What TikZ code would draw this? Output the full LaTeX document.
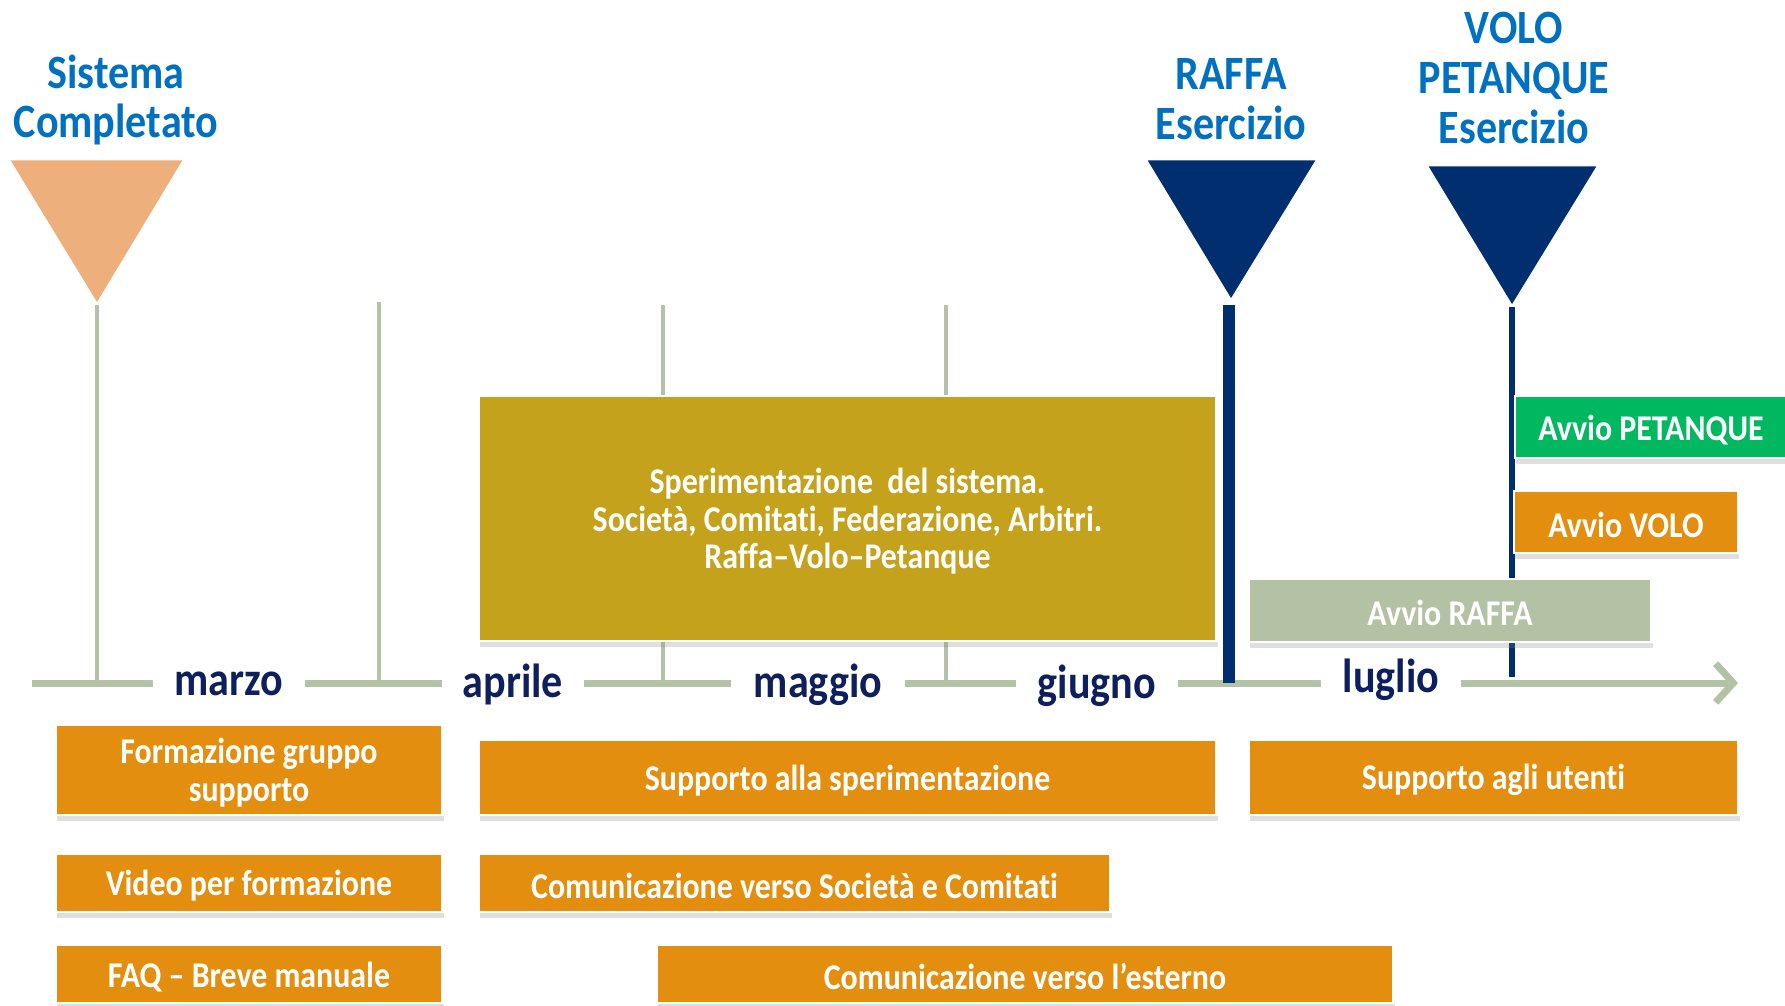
\documentclass[tikz,border=0pt]{standalone}
\usepackage{fontspec}
\setmainfont{Carlito}[FakeStretch=0.88, Ligatures=CommonOff]
\usetikzlibrary{arrows.meta,shadows}
\definecolor{titleblue}{HTML}{0070C0}
\definecolor{monthnavy}{HTML}{0D1F5C}
\definecolor{flagnavy}{HTML}{002E6E}
\definecolor{flagpeach}{HTML}{EDB07D}
\definecolor{sage}{HTML}{B3C2A4}
\definecolor{boxorange}{HTML}{E38E0E}
\definecolor{boxolive}{HTML}{C4A21C}
\definecolor{boxgreen}{HTML}{00B860}
\begin{document}
\begin{tikzpicture}[x=0.01cm,y=-0.01cm,
    title/.style={font=\bfseries\fontsize{13.6}{14.2}\selectfont, text=titleblue, align=center},
    month/.style={fill=white, text=monthnavy, font=\bfseries\fontsize{13.6}{14}\selectfont,
        text height=9.5pt, text depth=3pt, minimum height=0.7cm, inner sep=0pt},
    task/.style={draw=white, line width=0.8pt, fill=#1, text=white, align=center, inner sep=0pt,
        font=\bfseries\fontsize{10.3}{10.7}\selectfont, execute at begin node=\rule{0pt}{8.8pt},
        drop shadow={shadow xshift=0.4pt, shadow yshift=-1.6pt, opacity=0.25}},
    tall/.style={text depth=0pt},
    flag/.style={fill=#1, draw=white, line width=0.8pt},
    tick/.style={draw=sage, line width=1.3pt}]
\useasboundingbox (0,0) rectangle (1785,1005);

% milestones
\node[title] (tsis) at (116,100) {Sistema\\Completato};
\node[title] (traf) at (1231,99) {RAFFA\\Esercizio};
\node[title] (tvol) at (1514,78) {VOLO\\PETANQUE\\Esercizio};
\fill[flag=flagpeach] (8,159) -- (185,159) -- (97,305) -- cycle;
\fill[flag=flagnavy] (1145,159) -- (1318,159) -- (1231,301) -- cycle;
\fill[flag=flagnavy] (1426,165) -- (1599,165) -- (1512,307) -- cycle;

% time axis
\coordinate (axstart) at (32,683);
\coordinate (axend) at (1738,683);
\draw[draw=sage, line width=2pt, -{Straight Barb[length=5pt,width=11pt,line width=2pt]}] (axstart) -- (axend);

\coordinate (top1) at (97,305);   \coordinate (ax1) at (97,683);
\coordinate (top2) at (379,302);  \coordinate (ax2) at (379,683);
\coordinate (top3) at (663,305);  \coordinate (ax3) at (663,683);
\coordinate (top4) at (946,305);  \coordinate (ax4) at (946,683);
\coordinate (top5) at (1229,305); \coordinate (ax5) at (1229,683);
\coordinate (top6) at (1512,307); \coordinate (ax6) at (1512,677);
\draw[tick] (top1) -- (ax1);
\draw[tick] (top2) -- (ax2);
\draw[tick] (top3) -- (ax3);
\draw[tick] (top4) -- (ax4);
\draw[draw=flagnavy, line width=3.2pt] (top5) -- (ax5);
\draw[draw=flagnavy, line width=1.6pt] (top6) -- (ax6);

\node[month, minimum width=1.52cm] (marzo) at (229,684) {marzo};
\node[month, minimum width=1.42cm] (aprile) at (513,686) {aprile};
\node[month, minimum width=1.73cm] (maggio) at (818,686) {maggio};
\node[month, minimum width=1.61cm] (giugno) at (1097,687) {giugno};
\node[month, minimum width=1.40cm] (luglio) at (1391,681) {luglio};

% activities
\node[task=boxolive, tall, minimum width=7.37cm, minimum height=2.45cm] (spe) at (847.5,518.5)
    {Sperimentazione~ del sistema.\\Società, Comitati, Federazione, Arbitri.\\Raffa–Volo–Petanque};
\node[task=boxgreen, minimum width=2.72cm, minimum height=0.62cm] (petanque) at (1651,427) {Avvio PETANQUE};
\node[task=boxorange, minimum width=2.24cm, minimum height=0.62cm] (volo) at (1626,522) {Avvio VOLO};
\node[task=sage, minimum width=4.02cm, minimum height=0.63cm] (raffa) at (1450,610.5) {Avvio RAFFA};

\node[task=boxorange, tall, minimum width=3.86cm, minimum height=0.9cm] (form) at (249,770) {Formazione gruppo\\supporto};
\node[task=boxorange, minimum width=7.37cm, minimum height=0.75cm] (supspe) at (847.5,777.5) {Supporto alla sperimentazione};
\node[task=boxorange, minimum width=4.89cm, minimum height=0.75cm] (utenti) at (1493.5,777.5) {Supporto agli utenti};
\node[task=boxorange, minimum width=3.86cm, minimum height=0.58cm] (video) at (249,883) {Video per formazione};
\node[task=boxorange, minimum width=6.31cm, minimum height=0.58cm] (comsoc) at (794.5,883) {Comunicazione verso Società e Comitati};
\node[task=boxorange, minimum width=3.86cm, minimum height=0.58cm] (faq) at (249,974) {FAQ – Breve manuale};
\node[task=boxorange, minimum width=7.36cm, minimum height=0.58cm] (comest) at (1025,974) {Comunicazione verso l’esterno};
\end{tikzpicture}
\end{document}
